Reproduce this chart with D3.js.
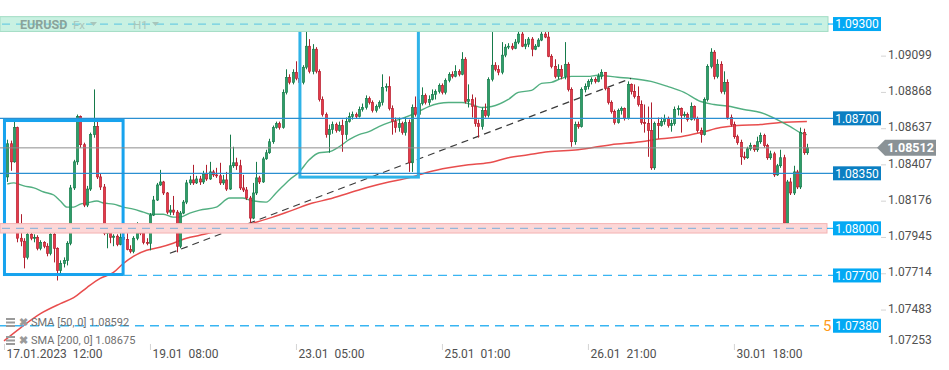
<!DOCTYPE html>
<html><head><meta charset="utf-8">
<script src="https://cdn.jsdelivr.net/npm/d3@7"></script>
<style>
html,body{margin:0;padding:0;background:#fff;}
svg{display:block;font-family:Roboto,"Noto Sans",sans-serif;}
</style></head><body>
<svg id="c" width="949" height="370"></svg>
<script>
// ---------- DATA (EURUSD H1) ----------
const firstOpen = 1.08327;
const closes = [
1.08538,1.08423,1.08641,1.07937,1.07918,1.07815,1.07962,1.07937,1.07943,1.07873,
1.07911,1.07886,1.07841,1.07962,1.07873,1.07732,1.07777,1.07796,1.07905,1.08257,
1.08423,1.08711,1.08532,1.08148,1.08250,1.08596,1.08647,1.08327,1.08263,1.07969,
1.07975,1.07943,1.07950,1.07898,1.07943,1.07930,1.07866,1.07854,1.07937,1.08007,
1.07969,1.07911,1.07905,1.08084,1.08180,1.08276,1.08295,1.08225,1.08103,1.08116,
1.08103,1.07886,1.08097,1.08167,1.08289,1.08308,1.08289,1.08314,1.08295,1.08346,
1.08314,1.08359,1.08340,1.08334,1.08289,1.08308,1.08250,1.08398,1.08417,1.08398,
1.08257,1.08244,1.08193,1.08065,1.08225,1.08321,1.08295,1.08442,1.08481,1.08551,
1.08641,1.08666,1.08641,1.08865,1.08961,1.08929,1.08993,1.08954,1.08929,1.09025,
1.09159,1.08999,1.09140,1.08999,1.08820,1.08724,1.08596,1.08628,1.08660,1.08622,
1.08654,1.08596,1.08679,1.08711,1.08724,1.08711,1.08756,1.08769,1.08826,1.08801,
1.08750,1.08775,1.08801,1.08897,1.08903,1.08762,1.08679,1.08641,1.08666,1.08609,
1.08673,1.08417,1.08769,1.08724,1.08794,1.08846,1.08801,1.08820,1.08852,1.08871,
1.08910,1.08865,1.08942,1.08980,1.08967,1.08999,1.08980,1.09076,1.08807,1.08820,
1.08775,1.08666,1.08647,1.08750,1.08718,1.08948,1.09038,1.09012,1.08993,1.09102,
1.09153,1.09159,1.09146,1.09185,1.09236,1.09159,1.09172,1.09204,1.09140,1.09159,
1.09198,1.09236,1.09217,1.09095,1.09031,1.08967,1.09012,1.08967,1.09044,1.08884,
1.08551,1.08660,1.08647,1.08884,1.08903,1.08935,1.08948,1.08935,1.08967,1.08993,
1.08890,1.08801,1.08743,1.08673,1.08750,1.08762,1.08698,1.08916,1.08871,1.08839,
1.08788,1.08673,1.08666,1.08622,1.08385,1.08666,1.08654,1.08679,1.08698,1.08654,
1.08666,1.08756,1.08762,1.08718,1.08724,1.08692,1.08775,1.08698,1.08622,1.08596,
1.08820,1.09031,1.09121,1.08967,1.09044,1.08871,1.08929,1.08705,1.08660,1.08583,
1.08545,1.08455,1.08449,1.08506,1.08526,1.08500,1.08551,1.08590,1.08526,1.08449,
1.08474,1.08340,1.08398,1.08449,1.08033,1.08295,1.08225,1.08359,1.08263,1.08609,
1.08481,1.08512];
const highs = [
1.08564,1.08558,1.08679,1.08647,1.08090,1.07937,1.07982,1.08033,1.07962,1.07956,
1.07924,1.07918,1.07905,1.07969,1.07975,1.07879,1.07796,1.07815,1.07918,1.08276,
1.08436,1.08724,1.08718,1.08545,1.08270,1.08609,1.08884,1.08679,1.08346,1.08282,
1.07988,1.08001,1.07962,1.07962,1.07969,1.07962,1.07969,1.07892,1.07950,1.08039,
1.08014,1.07975,1.07937,1.08097,1.08206,1.08289,1.08372,1.08302,1.08231,1.08148,
1.08206,1.08116,1.08110,1.08180,1.08308,1.08334,1.08404,1.08334,1.08334,1.08366,
1.08404,1.08423,1.08372,1.08385,1.08417,1.08340,1.08359,1.08596,1.08519,1.08449,
1.08436,1.08340,1.08263,1.08206,1.08289,1.08423,1.08334,1.08455,1.08500,1.08570,
1.08654,1.08679,1.08679,1.08884,1.09012,1.08980,1.09012,1.09063,1.08974,1.09038,
1.09281,1.09204,1.09172,1.09153,1.09012,1.08839,1.08737,1.08660,1.08679,1.08673,
1.08679,1.08692,1.08705,1.08737,1.08743,1.08737,1.08775,1.08794,1.08846,1.08839,
1.08814,1.08788,1.08814,1.08980,1.08922,1.08967,1.08782,1.08705,1.08705,1.08679,
1.08705,1.08692,1.08788,1.08839,1.08820,1.08897,1.08858,1.08846,1.08884,1.08884,
1.08922,1.08922,1.08954,1.08993,1.08999,1.09038,1.09012,1.09121,1.09089,1.08916,
1.08852,1.08833,1.08692,1.08769,1.08794,1.08961,1.09249,1.09057,1.09038,1.09185,
1.09172,1.09178,1.09178,1.09204,1.09255,1.09249,1.09204,1.09217,1.09217,1.09172,
1.09210,1.09306,1.09249,1.09294,1.09108,1.09076,1.09044,1.09038,1.09185,1.09057,
1.08897,1.08679,1.08679,1.08897,1.08922,1.08948,1.08961,1.08961,1.08986,1.09012,
1.08993,1.08897,1.08814,1.08756,1.08762,1.08775,1.08769,1.08935,1.08922,1.08916,
1.08903,1.08814,1.08788,1.08775,1.08801,1.08679,1.08705,1.08705,1.08724,1.08711,
1.08692,1.08775,1.08782,1.08769,1.08743,1.08737,1.08801,1.08782,1.08711,1.08641,
1.08833,1.09044,1.09146,1.09134,1.09076,1.09063,1.08999,1.08948,1.08724,1.08679,
1.08596,1.08564,1.08487,1.08519,1.08545,1.08532,1.08583,1.08609,1.08602,1.08538,
1.08494,1.08487,1.08410,1.08500,1.08468,1.08308,1.08321,1.08398,1.08372,1.08641,
1.08634,1.08538];
const lows = [
1.08295,1.08366,1.08417,1.07911,1.07886,1.07745,1.07802,1.07924,1.07911,1.07860,
1.07860,1.07873,1.07822,1.07828,1.07783,1.07668,1.07713,1.07751,1.07764,1.07892,
1.08244,1.08404,1.08513,1.08135,1.08135,1.08238,1.08577,1.08314,1.08244,1.07956,
1.07873,1.07905,1.07886,1.07886,1.07892,1.07886,1.07860,1.07841,1.07841,1.07924,
1.07956,1.07898,1.07892,1.07860,1.08078,1.08174,1.08270,1.08212,1.08090,1.08084,
1.08084,1.07847,1.07873,1.08090,1.08154,1.08276,1.08276,1.08282,1.08276,1.08282,
1.08302,1.08308,1.08327,1.08321,1.08276,1.08276,1.08238,1.08244,1.08385,1.08372,
1.08244,1.08231,1.08180,1.08033,1.08058,1.08212,1.08282,1.08289,1.08436,1.08474,
1.08538,1.08634,1.08628,1.08634,1.08852,1.08916,1.08916,1.08942,1.08916,1.08916,
1.09012,1.08986,1.08980,1.08986,1.08807,1.08711,1.08577,1.08481,1.08602,1.08609,
1.08615,1.08487,1.08564,1.08673,1.08692,1.08698,1.08705,1.08743,1.08756,1.08788,
1.08737,1.08737,1.08762,1.08782,1.08871,1.08750,1.08596,1.08609,1.08615,1.08596,
1.08590,1.08359,1.08359,1.08711,1.08711,1.08782,1.08788,1.08782,1.08814,1.08820,
1.08858,1.08852,1.08852,1.08929,1.08954,1.08961,1.08967,1.08974,1.08794,1.08769,
1.08705,1.08647,1.08577,1.08628,1.08705,1.08705,1.08935,1.08999,1.08974,1.08980,
1.09089,1.09140,1.09134,1.09140,1.09172,1.09153,1.09140,1.09153,1.09095,1.09134,
1.09153,1.09191,1.09210,1.09089,1.09018,1.08954,1.08948,1.08948,1.08948,1.08871,
1.08519,1.08532,1.08634,1.08641,1.08865,1.08884,1.08916,1.08922,1.08929,1.08948,
1.08878,1.08788,1.08730,1.08660,1.08666,1.08724,1.08686,1.08692,1.08852,1.08826,
1.08775,1.08660,1.08609,1.08455,1.08372,1.08372,1.08570,1.08647,1.08660,1.08641,
1.08615,1.08654,1.08718,1.08609,1.08705,1.08679,1.08686,1.08686,1.08609,1.08545,
1.08590,1.08807,1.09018,1.08948,1.08954,1.08858,1.08852,1.08692,1.08647,1.08570,
1.08532,1.08404,1.08436,1.08442,1.08494,1.08487,1.08487,1.08538,1.08513,1.08436,
1.08436,1.08327,1.08334,1.08385,1.08026,1.08026,1.08212,1.08212,1.08250,1.08250,
1.08468,1.08468];

const sma50Idx = [0,2,5,8,11,14,16,18,20,22,24,27,29,32,35,38,41,43,47,50,52,55,58,63,67,71,73,78,81,85,88,91,94,97,100,103,106,109,112,115,118,124,127,130,133,137,140,143,146,151,154,158,161,164,167,170,175,178,184,188,194,199,204,209,213,218,222,227,232,236,239,241];
const sma50Val = [1.08282,1.08289,1.08270,1.08257,1.08231,1.08212,1.08174,1.08135,1.08135,1.08154,1.08161,1.08174,1.08161,1.08154,1.08135,1.08122,1.08103,1.08090,1.08090,1.08071,1.08071,1.08097,1.08116,1.08135,1.08193,1.08193,1.08180,1.08167,1.08225,1.08308,1.08359,1.08436,1.08481,1.08487,1.08519,1.08564,1.08596,1.08615,1.08647,1.08673,1.08692,1.08743,1.08775,1.08794,1.08801,1.08801,1.08788,1.08769,1.08775,1.08820,1.08865,1.08878,1.08922,1.08929,1.08954,1.08967,1.08967,1.08974,1.08961,1.08954,1.08935,1.08903,1.08865,1.08807,1.08788,1.08775,1.08756,1.08737,1.08692,1.08647,1.08609,1.08596];
const sma200Idx = [-1,4,10,16,20,24,28,32,35,38,42,46,50,54,58,62,68,74,80,86,92,97,103,109,115,121,127,133,139,145,151,157,163,172,182,191,197,203,209,215,220,227,233,241];
const sma200Val = [1.07284,1.07367,1.07457,1.07521,1.07559,1.07623,1.07681,1.07719,1.07777,1.07822,1.07860,1.07879,1.07905,1.07937,1.07956,1.07975,1.08007,1.08033,1.08071,1.08116,1.08161,1.08186,1.08225,1.08263,1.08295,1.08321,1.08359,1.08385,1.08404,1.08417,1.08449,1.08468,1.08487,1.08500,1.08532,1.08551,1.08570,1.08583,1.08609,1.08641,1.08654,1.08660,1.08673,1.08679];

const yTicks = [1.09099,1.08868,1.08637,1.08407,1.08176,1.07945,1.07714,1.07483,1.07253];
const xTickIdx = [-1,43,87,131,175,219];
const xTickLabels = ["17.01.2023  12:00","19.01  08:00","23.01  05:00","25.01  01:00","26.01  21:00","30.01  18:00"];

const levelValues = [1.093,1.087,1.0835,1.08,1.077,1.0738];
const levelLabels = ["1.09300","1.08700","1.08350","1.08000","1.07700","1.07380"];
const zoneTop = [1.09347,null,null,1.08030,null,null];
const zoneBottom = [1.09253,null,null,1.07970,null,null];

const rectStart = [-0.85, 88.2], rectEnd = [34.9, 123.9];
const rectTop = [1.08686, 1.09300], rectBottom = [1.07706, 1.08326];
const trendIdx = [49, 188], trendVal = [1.07841, 1.08954];

const lastPrice = 1.08512;
const smaLegend = ["SMA [50, 0] 1.08592", "SMA [200, 0] 1.08675"];

// ---------- DRAW ----------
const svg = d3.select('#c');
const x = d3.scaleLinear().domain([0,241]).range([7.3, 806.9]);
const y = d3.scaleLinear().domain([1.07253,1.0946]).range([345.7,-1.1]);

svg.append('defs').append('clipPath').attr('id','clip')
  .append('rect').attr('x',0).attr('y',0).attr('width',881).attr('height',345);
const g = svg.append('g').attr('clip-path','url(#clip)');

const levelStyle = {
  "1.09300": {kind:'zone', fill:'#c9f1e2', stroke:'#a2dcc3', dash:'#6fcde2', box:'#03a9f4', x0:0, x1:828},
  "1.08700": {kind:'solid', line:'#2b8fd1', box:'#0b7fc2', x0:0, x1:833},
  "1.08350": {kind:'solid', line:'#2b8fd1', box:'#0b7fc2', x0:0, x1:833},
  "1.08000": {kind:'zone', fill:'#fcd7d7', stroke:'#f4b3b3', dash:'#93b6da', box:'#03a9f4', x0:0, x1:827},
  "1.07700": {kind:'dashed', line:'#39b5f2', box:'#03a9f4', x0:123, x1:833},
  "1.07380": {kind:'dashed', line:'#39b5f2', box:'#03a9f4', x0:0, x1:822}
};

levelValues.forEach((v,k)=>{
  const st = levelStyle[levelLabels[k]];
  const yy = y(v);
  if (st.kind==='zone'){
    svg.append('rect').attr('x',st.x0).attr('y',y(zoneTop[k])).attr('width',st.x1-st.x0)
      .attr('height',y(zoneBottom[k])-y(zoneTop[k])).attr('fill',st.fill).attr('stroke',st.stroke).attr('stroke-width',1);
    svg.append('line').attr('x1',st.x0+2).attr('x2',st.x1-4).attr('y1',yy).attr('y2',yy)
      .attr('stroke',st.dash).attr('stroke-width',1.3).attr('stroke-dasharray','8,6');
    svg.append('line').attr('x1',st.x1).attr('x2',833).attr('y1',yy).attr('y2',yy).attr('stroke',st.box).attr('stroke-width',1);
  } else if (st.kind==='solid'){
    svg.append('line').attr('x1',st.x0).attr('x2',st.x1).attr('y1',yy).attr('y2',yy)
      .attr('stroke',st.line).attr('stroke-width',1.2);
  } else {
    svg.append('line').attr('x1',st.x0).attr('x2',st.x1).attr('y1',yy).attr('y2',yy)
      .attr('stroke',st.line).attr('stroke-width',1.3).attr('stroke-dasharray','9,6');
  }
});

// watermark
const wm = svg.append('g');
wm.append('text').attr('x',20).attr('y',y(1.093)+4.5).attr('font-size',12.5).attr('font-weight','bold').attr('fill','#8aa39a').text('EURUSD');
wm.append('text').attr('x',73).attr('y',y(1.093)+4.5).attr('font-size',11.5).attr('fill','#a9c6bb').text('Fx');
wm.append('path').attr('d',`M90,${y(1.093)-2} l7,0 l-3.5,4 z`).attr('fill','#a9c6bb');
wm.append('text').attr('x',133).attr('y',y(1.093)+4.5).attr('font-size',11.5).attr('fill','#a9c6bb').text('H1');
wm.append('path').attr('d',`M152,${y(1.093)-2} l7,0 l-3.5,4 z`).attr('fill','#a9c6bb');

// current price line
svg.append('line').attr('x1',0).attr('x2',878).attr('y1',y(lastPrice)).attr('y2',y(lastPrice))
  .attr('stroke','#8d8d8d').attr('stroke-width',1);

// SMA lines
const line = d3.line().x(d=>x(d[0])).y(d=>y(d[1])).curve(d3.curveMonotoneX);
g.append('path').datum(sma200Idx.map((d,i)=>[d,sma200Val[i]])).attr('d',line)
  .attr('fill','none').attr('stroke','#e53a3a').attr('stroke-width',1.5).attr('stroke-opacity',0.9);
g.append('path').datum(sma50Idx.map((d,i)=>[d,sma50Val[i]])).attr('d',line)
  .attr('fill','none').attr('stroke','#3fa673').attr('stroke-width',1.4).attr('stroke-opacity',0.9);

// trend line
g.append('line').attr('x1',x(trendIdx[0])).attr('y1',y(trendVal[0])).attr('x2',x(trendIdx[1])).attr('y2',y(trendVal[1]))
  .attr('stroke','#3b3b3b').attr('stroke-width',1.2).attr('stroke-dasharray','7,5');

// candles
const candles = closes.map((c,i)=>{
  const o = i===0 ? firstOpen : closes[i-1];
  return {i, o, c, h: Math.max(highs[i],o,c), l: Math.min(lows[i],o,c)};
});
const cg = g.append('g');
candles.forEach(d=>{
  const isUp = d.c >= d.o;
  const dark = isUp ? '#167a4a' : '#b01f2e';
  const fill = isUp ? '#2e9d69' : '#e53a49';
  const cx = Math.round(x(d.i)) + 0.5;
  cg.append('line').attr('x1',cx).attr('x2',cx).attr('y1',y(d.h)).attr('y2',y(d.l)).attr('stroke',dark).attr('stroke-width',1);
  const top = y(Math.max(d.o,d.c)), bot = y(Math.min(d.o,d.c));
  cg.append('rect').attr('x',cx-1.2).attr('y',top).attr('width',2.4).attr('height',Math.max(1,bot-top))
    .attr('fill',fill).attr('stroke',dark).attr('stroke-width',0.6);
});

// rectangles
rectStart.forEach((s,k)=>{
  g.append('rect').attr('x',x(s)).attr('y',y(rectTop[k])).attr('width',x(rectEnd[k])-x(s))
    .attr('height',y(rectBottom[k])-y(rectTop[k])).attr('fill','none')
    .attr('stroke', k===0 ? '#17a3ee' : '#2fb3e8').attr('stroke-width',3);
});

// level labels
levelValues.forEach((v,k)=>{
  const st = levelStyle[levelLabels[k]];
  const yy = y(v);
  svg.append('rect').attr('x',833).attr('y',yy-7).attr('width',48).attr('height',14).attr('fill',st.box);
  svg.append('text').attr('x',857).attr('y',yy+4.2).attr('text-anchor','middle').attr('font-size',12)
    .attr('fill','#fff').text(levelLabels[k]);
});
svg.append('text').attr('x',823).attr('y',y(1.0738)+5.5).attr('font-size',15).attr('fill','#ff9a1a').text('5');

// y axis
const yAxis = d3.axisRight(y).tickValues(yTicks).tickSize(5).tickFormat(d3.format('.5f'));
const ya = svg.append('g').attr('transform','translate(881,0)').call(yAxis);
ya.select('.domain').remove();
ya.selectAll('.tick line').attr('stroke','#d4d4d4');
ya.selectAll('.tick text').attr('font-size',12).attr('fill','#505050').attr('font-family','Roboto,sans-serif')
  .attr('x',7).attr('dy',(d,i)=> i===yTicks.length-1 ? '-0.15em' : '0.22em');
ya.selectAll('.tick').filter((d,i)=>i===yTicks.length-1).select('line').remove();

// current price tag
const ly = y(lastPrice);
svg.append('path').attr('d',`M877,${ly} L885,${ly-8} L936,${ly-8} L936,${ly+8} L885,${ly+8} Z`).attr('fill','#8a9296');
svg.append('text').attr('x',910.5).attr('y',ly+4.3).attr('text-anchor','middle').attr('font-size',12.5)
  .attr('font-weight','bold').attr('fill','#fff').text(d3.format('.5f')(lastPrice));

// x axis
const xAxis = d3.axisBottom(x).tickValues(xTickIdx).tickSize(6).tickFormat((d,i)=>xTickLabels[i]);
const xa = svg.append('g').attr('transform','translate(0,344)').call(xAxis);
xa.select('.domain').remove();
xa.selectAll('.tick line').attr('stroke','#d4d4d4');
xa.selectAll('.tick text').attr('font-size',12).attr('fill','#505050').attr('font-family','Roboto,sans-serif')
  .attr('text-anchor','start').attr('x',2).attr('y',5).style('white-space','pre');

// SMA legend
const lg = svg.append('g');
smaLegend.forEach((t,k)=>{
  const cy = 322.5 + k*18;
  const ic = lg.append('g').attr('transform',`translate(6,${cy-4.5})`);
  ic.append('rect').attr('x',0).attr('y',0).attr('width',9).attr('height',2).attr('fill','#9a9a9a');
  ic.append('rect').attr('x',0).attr('y',3.5).attr('width',9).attr('height',2).attr('fill','#9a9a9a');
  ic.append('rect').attr('x',0).attr('y',7).attr('width',9).attr('height',2).attr('fill','#9a9a9a');
  lg.append('text').attr('x',19).attr('y',cy+3.5).attr('font-size',10.5).attr('font-weight','bold').attr('fill','#9a9a9a').text('✖');
  lg.append('text').attr('x',31).attr('y',cy+3.5).attr('font-size',11).attr('fill','#707070').text(t);
});
</script>
</body></html>
